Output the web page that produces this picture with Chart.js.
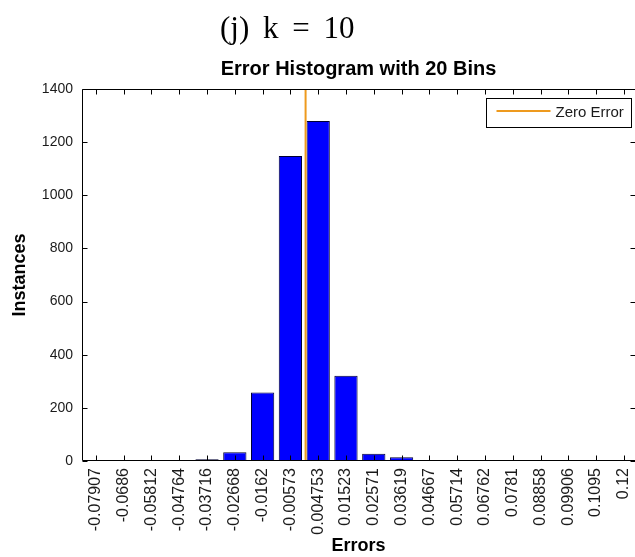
<!DOCTYPE html>
<html><head><meta charset="utf-8">
<script src="https://cdn.jsdelivr.net/npm/chart.js@4.4.1/dist/chart.umd.min.js"></script>
<style>
html,body{margin:0;padding:0;background:#fff;}
#wrap{position:relative;width:635px;height:557px;overflow:hidden;background:#fff;}
#hdr{position:absolute;left:220px;top:12px;font-family:'Liberation Serif','Times New Roman',serif;font-size:31px;line-height:1;word-spacing:6px;color:#000;white-space:nowrap;}
canvas{position:absolute;left:0;top:0;}
</style></head><body>
<div id="wrap"><canvas id="c" width="635" height="557"></canvas><div id="hdr"></div></div>
<script>
// ---- data ----
const panelTitle = '(j) k = 10';
const chartTitle = 'Error Histogram with 20 Bins';
const xTitle = 'Errors';
const yTitle = 'Instances';
const binLabels = ['-0.07907','-0.0686','-0.05812','-0.04764','-0.03716','-0.02668','-0.0162','-0.00573','0.004753','0.01523','0.02571','0.03619','0.04667','0.05714','0.06762','0.0781','0.08858','0.09906','0.1095','0.12'];
const binCenters = binLabels.map(Number);
const counts = [1,1,0,1,7,33,258,1148,1280,321,27,14,1,1,0,1,1,1,0,1];
const zeroLineLabel = 'Zero Error';
const zeroLineX = [0, 0];
const zeroLineY = [0, 1400];
const yTicks = [0,200,400,600,800,1000,1200,1400];

document.getElementById('hdr').textContent = panelTitle;

const SANS = "'Liberation Sans', Arial, Helvetica, sans-serif";
Chart.defaults.font.family = SANS;
Chart.defaults.color = '#1a1a1a';

const ZERO_COLOR = '#EE9A1E';

const framePlugin = {
  id: 'frame',
  afterDatasetsDraw(chart) {
    const {ctx, chartArea: a, scales: {x, y}} = chart;
    const L = Math.round(a.left) + 0.5, T = Math.round(a.top) + 0.5;
    const B = Math.round(a.bottom) - 0.5, R = Math.round(a.right) - 0.5;
    const tl = 5;
    ctx.save();
    ctx.strokeStyle = '#000';
    ctx.lineWidth = 1;
    ctx.beginPath();
    ctx.moveTo(R + 1, T); ctx.lineTo(L, T); ctx.lineTo(L, B); ctx.lineTo(R + 1, B);
    x.ticks.forEach(t => {
      const px = Math.round(x.getPixelForValue(t.value)) + 0.5;
      ctx.moveTo(px, T); ctx.lineTo(px, T + tl);
      ctx.moveTo(px, B); ctx.lineTo(px, B - tl);
    });
    y.ticks.forEach(t => {
      const py = Math.round(y.getPixelForValue(t.value)) + 0.5;
      ctx.moveTo(L, py); ctx.lineTo(L + tl, py);
      ctx.moveTo(R + 1, py); ctx.lineTo(R + 1 - tl, py);
    });
    ctx.stroke();
    ctx.restore();
  },
  afterDraw(chart) {
    const {ctx, chartArea: a} = chart;
    const ds = chart.data.datasets.find(d => d.type === 'line');
    ctx.save();
    ctx.font = '15px ' + SANS;
    const tw = ctx.measureText(ds.label).width;
    const h = 29, lineLen = 54;
    const right = Math.round(a.right) - 4 + 0.5;
    const top = Math.round(a.top) + 9 + 0.5;
    const w = 10 + lineLen + 5 + tw + 8;
    const left = Math.round(right - w) + 0.5;
    ctx.fillStyle = '#fff';
    ctx.fillRect(left, top, right - left, h);
    ctx.strokeStyle = '#000';
    ctx.lineWidth = 1;
    ctx.strokeRect(left, top, right - left, h);
    const cy = top + 12.5;
    ctx.strokeStyle = ds.borderColor;
    ctx.lineWidth = 2;
    ctx.beginPath();
    ctx.moveTo(left + 10, cy); ctx.lineTo(left + 10 + lineLen, cy);
    ctx.stroke();
    ctx.fillStyle = '#1a1a1a';
    ctx.textBaseline = 'middle';
    ctx.textAlign = 'left';
    ctx.fillText(ds.label, left + 10 + lineLen + 5, cy + 2);
    ctx.restore();
  }
};

new Chart(document.getElementById('c'), {
  type: 'bar',
  data: {
    datasets: [
      {
        type: 'line',
        label: zeroLineLabel,
        data: zeroLineX.map((v, i) => ({x: v, y: zeroLineY[i]})),
        borderColor: ZERO_COLOR,
        backgroundColor: ZERO_COLOR,
        borderWidth: 2,
        pointRadius: 0,
        fill: false,
        order: 1
      },
      {
        type: 'bar',
        label: 'Instances',
        data: binCenters.map((v, i) => ({x: v, y: counts[i]})),
        backgroundColor: '#0000FF',
        borderColor: '#000033',
        borderWidth: 1,
        barPercentage: 1.0,
        categoryPercentage: 0.84,
        order: 2
      }
    ]
  },
  options: {
    responsive: false,
    animation: false,
    events: [],
    layout: {padding: {top: 50, left: 0, right: 0, bottom: 0}},
    plugins: {
      legend: {display: false},
      tooltip: {enabled: false},
      title: {
        display: true,
        text: chartTitle,
        fullSize: false,
        color: '#000',
        font: {size: 20, weight: 'bold', family: SANS},
        padding: {top: 7, bottom: 8}
      }
    },
    scales: {
      x: {
        type: 'linear',
        offset: false,
        min: -0.0843,
        max: 0.1242,
        grid: {display: false, drawTicks: false, offset: false},
        border: {display: false},
        afterBuildTicks: s => { s.ticks = binCenters.map(v => ({value: v})); },
        afterFit: s => { s.height = 96; s.paddingLeft = 0; s.paddingRight = 0; },
        ticks: {
          autoSkip: false,
          minRotation: 90,
          maxRotation: 90,
          padding: 7,
          color: '#1a1a1a',
          font: {size: 16},
          callback: (v, i) => binLabels[i]
        },
        title: {
          display: true,
          text: xTitle,
          color: '#000',
          font: {size: 18, weight: 'bold'},
          padding: {top: 0, bottom: 0}
        }
      },
      y: {
        min: 0,
        max: 1400,
        grid: {display: false, drawTicks: false},
        border: {display: false},
        afterBuildTicks: s => { s.ticks = yTicks.map(v => ({value: v})); },
        afterFit: s => { s.width = 82; s.paddingTop = 0; s.paddingBottom = 0; },
        ticks: {
          padding: 9,
          color: '#1a1a1a',
          font: {size: 14},
          callback: v => String(v)
        },
        title: {
          display: true,
          text: yTitle,
          color: '#000',
          font: {size: 18, weight: 'bold'},
          padding: {top: 9, bottom: 0}
        }
      }
    }
  },
  plugins: [framePlugin]
});
</script>
</body></html>
